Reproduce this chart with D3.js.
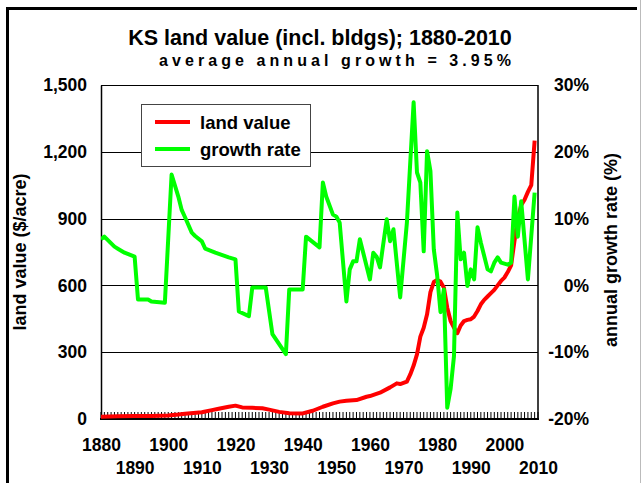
<!DOCTYPE html>
<html><head><meta charset="utf-8">
<script src="https://cdn.jsdelivr.net/npm/d3@7"></script>
<style>
body{margin:0;background:#fff}
svg{display:block}
text{font-family:"Liberation Sans",Arial,sans-serif;font-weight:bold;fill:#000}
</style>
</head><body><svg id="c" width="642" height="483"></svg>
<script>
// ---- data ----
const landYears  = [1880,1885,1890,1895,1900,1903,1905,1910,1913,1915,1918,1920,1922,1925,1928,1930,1933,1936,1940,1943,1946,1949,1951,1953,1956,1959,1960,1963,1966,1968,1969,1971,1972,1973,1974,1975,1976,1977,1978,1979,1980,1981,1982,1983,1984,1985,1986,1987,1988,1989,1990,1991,1992,1993,1994,1995,1996,1997,1998,1999,2000,2001,2002,2003,2004,2005,2006,2007,2008,2009];
const landValues = [10,12,13,14,16,20,24,30,40,46,55,60,52,50,48,42,32,26,25,37,55,70,78,82,85,100,103,118,142,160,157,168,200,240,290,370,410,470,570,615,624,617,590,500,440,410,385,420,440,445,448,460,485,515,535,550,565,580,600,620,635,660,690,800,900,960,985,1020,1050,1250];

const growthYears  = [1880,1881,1884,1885,1887,1890,1891,1894,1895,1899,1901,1903,1904,1905,1907,1908,1910,1911,1914,1918,1920,1921,1924,1925,1929,1931,1935,1936,1940,1941,1945,1946,1947,1949,1950,1951,1953,1954,1955,1956,1957,1960,1961,1962,1963,1965,1966,1967,1969,1971,1973,1974,1975,1976,1977,1978,1979,1980,1981,1982,1983,1984,1985,1986,1987,1988,1989,1990,1991,1992,1993,1995,1996,1997,1998,1999,2001,2002,2003,2004,2005,2007,2009];
const growthValues = [6.9,7.3,5.8,5.5,4.9,4.3,-2.1,-2.1,-2.4,-2.6,16.6,13.3,11.3,10.2,7.9,7.4,6.6,5.5,4.9,4.2,3.9,-3.9,-4.6,-0.3,-0.3,-7.3,-10.3,-0.6,-0.6,7.3,5.7,15.4,13.3,10.6,10.3,9.4,-2.4,2.4,3.6,3.6,6.9,0.9,4.9,4.3,2.7,9.9,6.6,8.4,-1.8,9.4,27.4,16.9,15.4,5.1,20.1,17.1,5.4,1.5,-4.0,-0.6,-18.3,-15.5,-10.6,10.9,3.9,4.9,-0.1,2.4,0.9,8.7,6.4,2.4,2.1,3.4,4.2,3.4,3.1,3.4,13.3,7.3,12.6,0.9,13.9];

const leftTicks  = [0,300,600,900,1200,1500];
const rightTicks = [-20,-10,0,10,20,30];
const xLabelYears = [1880,1890,1900,1910,1920,1930,1940,1950,1960,1970,1980,1990,2000,2010];
const seriesNames = ["land value","growth rate"];
const seriesColors = ["#ff0000","#00ff00"];
const titleText = "KS land value (incl. bldgs); 1880-2010";
const subtitleText = "average annual growth = 3.95%";
const leftTitle = "land value ($/acre)";
const rightTitle = "annual growth rate (%)";

// ---- layout ----
const L=101, R=538, T=85, B=419;
const svg = d3.select("#c");

const x  = d3.scaleLinear().domain([1880,2010]).range([L,R]);
const yL = d3.scaleLinear().domain([0,1500]).range([B,T]);
const yR = d3.scaleLinear().domain([-20,30]).range([B,T]);

// outer frame
svg.append("line").attr("x1",6).attr("x2",637).attr("y1",8.5).attr("y2",8.5).attr("stroke","#000").attr("stroke-width",3);
svg.append("line").attr("x1",7.5).attr("x2",7.5).attr("y1",7).attr("y2",483).attr("stroke","#000").attr("stroke-width",3);
svg.append("line").attr("x1",640.5).attr("x2",640.5).attr("y1",0).attr("y2",483).attr("stroke","#bbb").attr("stroke-width",1);

// titles
svg.append("text").attr("x",320).attr("y",45).attr("text-anchor","middle").style("font-size","21.5px").text(titleText);
svg.append("text").attr("x",335).attr("y",66).attr("text-anchor","middle").style("font-size","16px")
  .attr("textLength",352).attr("lengthAdjust","spacing").text(subtitleText);

// gridlines
svg.append("g").selectAll("line").data(leftTicks.filter(d=>d>0 && d<1500)).join("line")
  .attr("x1",L).attr("x2",R).attr("y1",d=>Math.round(yL(d))+0.5).attr("y2",d=>Math.round(yL(d))+0.5)
  .attr("stroke","#000").attr("stroke-width",1);

// plot border top/right
svg.append("line").attr("x1",L).attr("x2",R).attr("y1",T+0.5).attr("y2",T+0.5).attr("stroke","#000").attr("stroke-width",1);
svg.append("line").attr("x1",R).attr("x2",R).attr("y1",T).attr("y2",B).attr("stroke","#000").attr("stroke-width",1.5);

// left axis
const gl = svg.append("g").attr("transform",`translate(${L},0)`)
  .call(d3.axisLeft(yL).tickValues(leftTicks).tickFormat(d3.format(",")).tickSize(0).tickPadding(14));
gl.select(".domain").attr("stroke","#000").attr("stroke-width",1.5);
gl.selectAll("text").style("font-size","17.5px").style("font-family",null).attr("fill","#000");

// right axis
const gr = svg.append("g").attr("transform",`translate(${R},0)`)
  .call(d3.axisRight(yR).tickValues(rightTicks).tickFormat(d=>d+"%").tickSize(0));
gr.select(".domain").remove();
gr.selectAll("text").attr("text-anchor","end").attr("x",51).style("font-size","17.5px").style("font-family",null).attr("fill","#000");

// bottom axis labels (staggered)
const gb = svg.append("g").attr("transform",`translate(0,${B})`)
  .call(d3.axisBottom(x).tickValues(xLabelYears).tickFormat(d3.format("d")).tickSize(0));
gb.select(".domain").remove();
gb.selectAll("text").attr("dy",null).attr("y",(d,i)=> i%2===0 ? 32 : 55)
  .style("font-size","17.5px").style("font-family",null).attr("fill","#000");

// year tick marks (inside)
svg.append("g").selectAll("line").data(d3.range(1880,2011)).join("line")
  .attr("x1",d=>x(d)).attr("x2",d=>x(d)).attr("y1",B).attr("y2",B-7)
  .attr("stroke","#000").attr("stroke-width",1);
svg.append("line").attr("x1",L-1).attr("x2",R+1).attr("y1",B).attr("y2",B).attr("stroke","#000").attr("stroke-width",2);

// axis titles
svg.append("text").attr("transform","translate(26,252) rotate(-90)").attr("text-anchor","middle").style("font-size","18px").text(leftTitle);
svg.append("text").attr("transform","translate(617,250) rotate(-90)").attr("text-anchor","middle").style("font-size","18px").text(rightTitle);

// series
svg.append("clipPath").attr("id","pc").append("rect").attr("x",L).attr("y",T-3).attr("width",R-L).attr("height",B-T+3);
const landLine = d3.line().x((d,i)=>x(landYears[i])).y(d=>yL(d));
const growthLine = d3.line().x((d,i)=>x(growthYears[i])).y(d=>yR(d));
svg.append("path").attr("d",landLine(landValues)).attr("fill","none").attr("stroke",seriesColors[0])
  .attr("stroke-width",4).attr("stroke-linejoin","round").attr("clip-path","url(#pc)");
svg.append("path").attr("d",growthLine(growthValues)).attr("fill","none").attr("stroke",seriesColors[1])
  .attr("stroke-width",4).attr("stroke-linejoin","round").attr("clip-path","url(#pc)");

// legend
const lg = svg.append("g");
lg.append("rect").attr("x",141.5).attr("y",104.5).attr("width",169).attr("height",62).attr("fill","#fff").attr("stroke","#444").attr("stroke-width",1);
seriesNames.forEach((n,i)=>{
  const yy = 122 + i*27;
  lg.append("line").attr("x1",155).attr("x2",190).attr("y1",yy).attr("y2",yy).attr("stroke",seriesColors[i]).attr("stroke-width",4);
  lg.append("text").attr("x",200).attr("y",yy+6.5).style("font-size","18.5px").text(n);
});
</script>
</body></html>
